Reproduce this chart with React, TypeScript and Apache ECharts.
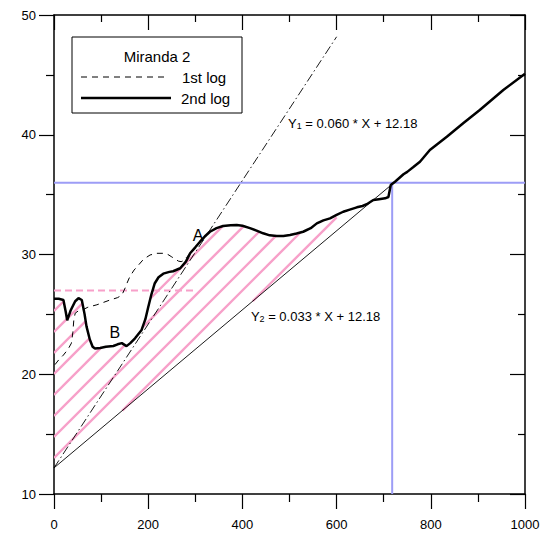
import React, { useEffect, useRef } from 'react';
import * as echarts from 'echarts';

// ---- data ----
const secondLogX = [0, 10, 20, 25, 28, 35, 45, 52, 59, 65, 69, 76, 82, 87, 98, 110, 126, 135, 144, 154, 162, 172, 186, 194, 200, 207, 214, 222, 232, 245, 253, 268, 280, 289, 300, 310, 320, 331, 345, 359, 375, 388, 400, 416, 430, 444, 458, 473, 487, 501, 515, 529, 545, 558, 572, 586, 600, 614, 628, 643, 655, 664, 678, 690, 703, 710, 715, 724, 742, 750, 763, 777, 798, 834, 870, 904, 954, 1000];
const secondLogY = [26.3, 26.3, 26.2, 25.2, 24.5, 25.3, 26.1, 26.35, 26.2, 25.0, 24.0, 22.9, 22.3, 22.15, 22.2, 22.3, 22.36, 22.5, 22.6, 22.35, 22.6, 23.0, 23.7, 24.6, 25.6, 26.7, 27.6, 28.1, 28.4, 28.55, 28.6, 28.85, 29.4, 30.1, 30.6, 31.07, 31.5, 31.9, 32.2, 32.38, 32.45, 32.46, 32.4, 32.2, 32.0, 31.77, 31.6, 31.54, 31.55, 31.63, 31.75, 31.9, 32.2, 32.6, 32.85, 33.02, 33.3, 33.57, 33.75, 33.94, 34.05, 34.2, 34.55, 34.62, 34.69, 34.8, 35.8, 36.08, 36.7, 36.9, 37.3, 37.75, 38.73, 39.84, 41.0, 42.07, 43.74, 45.1];

const firstLogX = [2, 10, 20, 30, 37, 40, 42, 45, 52, 62, 72, 91, 105, 119, 135, 144, 151, 156, 161, 170, 179, 190, 204, 218, 232, 242, 250, 258, 264, 270, 276, 282, 290];
const firstLogY = [20.8, 21.2, 21.6, 22.1, 22.6, 23.5, 24.5, 25.1, 25.3, 25.4, 25.6, 25.8, 26.0, 26.2, 26.4, 26.6, 27.2, 27.7, 28.15, 28.7, 29.1, 29.6, 29.96, 30.1, 30.1, 30.0, 29.8, 29.6, 29.45, 29.4, 29.5, 29.8, 30.1];

const intercept = 12.18;
const y1Slope = 0.06;
const y2Slope = 0.033;
const y1EndX = 600;
const y2EndX = 720;
const blueLevelY = 36;
const blueLevelX = 718;
const pinkLevelY = 27;
const pinkEndX = 300;
const hatchEndX = 600;

const xMin = 0, xMax = 1000, xStep = 200;
const yMin = 10, yMax = 50, yStep = 10;

const legendTitle = 'Miranda 2';
const legendNames = ['1st log', '2nd log'];
const eq1Text = ['Y', '1', ' = 0.060 * X + 12.18'];
const eq2Text = ['Y', '2', ' = 0.033 * X + 12.18'];
const markA = { label: 'A', x: 306, y: 31.6 };
const markB = { label: 'B', x: 129, y: 23.45 };
const eq1Pos = { x: 497, y: 41.2 };
const eq2Pos = { x: 418, y: 25.1 };

const FONT = '"Liberation Sans", Arial, Helvetica, sans-serif';
const PINK = '#f7a0c9';
const BLUE = '#9d9df6';
const HATCH_STEP = 21;
const HATCH_OFFSET = 10;

export default function App() {
  const ref = useRef<HTMLDivElement>(null);
  useEffect(() => {
    if (!ref.current) return;
    const chart = echarts.init(ref.current, null, { renderer: 'svg' });

    const secondLog = secondLogX.map((x, i) => [x, secondLogY[i]]);
    const firstLog = firstLogX.map((x, i) => [x, firstLogY[i]]);
    const hatchUpper = secondLogX
      .map((x, i) => [x, secondLogY[i]])
      .filter((p) => p[0] <= hatchEndX);

    const renderHatch = (params: any, api: any) => {
      const poly: number[][] = hatchUpper.map((p) => api.coord(p));
      poly.push(api.coord([hatchEndX, intercept + y2Slope * hatchEndX]));
      poly.push(api.coord([0, intercept]));
      const origin = api.coord([0, intercept]);
      const c0 = origin[0] + origin[1] - HATCH_OFFSET;
      let cMin = Infinity, cMax = -Infinity;
      poly.forEach((p) => { cMin = Math.min(cMin, p[0] + p[1]); cMax = Math.max(cMax, p[0] + p[1]); });
      const kMin = Math.ceil((cMin - c0) / HATCH_STEP);
      const kMax = Math.floor((cMax - c0) / HATCH_STEP);
      const children: any[] = [];
      for (let k = kMin; k <= kMax; k++) {
        const c = c0 + k * HATCH_STEP;
        const pts: number[][] = [];
        for (let i = 0; i < poly.length; i++) {
          const a = poly[i];
          const b = poly[(i + 1) % poly.length];
          const fa = a[0] + a[1] - c;
          const fb = b[0] + b[1] - c;
          if ((fa < 0) !== (fb < 0)) {
            const t = fa / (fa - fb);
            pts.push([a[0] + t * (b[0] - a[0]), a[1] + t * (b[1] - a[1])]);
          }
        }
        pts.sort((p, q) => p[0] - q[0]);
        for (let j = 0; j + 1 < pts.length; j += 2) {
          children.push({
            type: 'line',
            shape: { x1: pts[j][0], y1: pts[j][1], x2: pts[j + 1][0], y2: pts[j + 1][1] },
            style: { stroke: PINK, lineWidth: 2.4 },
          });
        }
      }
      return { type: 'group', children };
    };

    const axisLine = { show: true, onZero: false, lineStyle: { color: '#000', width: 1.5 } };
    const baseX = { type: 'value', min: xMin, max: xMax, interval: xStep, splitLine: { show: false } };
    const baseY = { type: 'value', min: yMin, max: yMax, interval: yStep, splitLine: { show: false } };
    const lineSeries = (data: any, style: any, z: number) => ({
      type: 'line', data, symbol: 'none', silent: true, z, lineStyle: style,
    });

    chart.setOption({
      animation: false,
      grid: { left: 54, right: 19, top: 15, bottom: 40 },
      xAxis: [
        {
          ...baseX, position: 'bottom', axisLine,
          axisTick: { show: true, length: 15, lineStyle: { color: '#000', width: 1.2 } },
          minorTick: { show: true, splitNumber: 2, length: 8, lineStyle: { color: '#000', width: 1.2 } },
          axisLabel: { color: '#000', fontSize: 13, fontFamily: FONT, margin: 24, formatter: (v: number) => String(v) },
        },
        {
          ...baseX, position: 'top', axisLine,
          axisTick: { show: true, inside: true, length: 15, lineStyle: { color: '#000', width: 1.2 } },
          minorTick: { show: true, splitNumber: 2, length: 7, lineStyle: { color: '#000', width: 1.2 } },
          axisLabel: { show: false },
        },
      ],
      yAxis: [
        {
          ...baseY, position: 'left', axisLine,
          axisTick: { show: true, length: 15, lineStyle: { color: '#000', width: 1.2 } },
          minorTick: { show: true, splitNumber: 2, length: 8, lineStyle: { color: '#000', width: 1.2 } },
          axisLabel: { color: '#000', fontSize: 13, fontFamily: FONT, margin: 18, formatter: (v: number) => String(v) },
        },
        {
          ...baseY, position: 'right', axisLine,
          axisTick: { show: true, inside: true, length: 15, lineStyle: { color: '#000', width: 1.2 } },
          minorTick: { show: true, splitNumber: 2, length: 7, lineStyle: { color: '#000', width: 1.2 } },
          axisLabel: { show: false },
        },
      ],
      series: [
        {
          type: 'custom', data: [[0, intercept]], renderItem: renderHatch, silent: true, z: 1, clip: true,
        },
        lineSeries([[xMin, blueLevelY], [xMax, blueLevelY]], { color: BLUE, width: 2 }, 2),
        lineSeries([[blueLevelX, yMin], [blueLevelX, blueLevelY]], { color: BLUE, width: 2 }, 2),
        lineSeries([[xMin, pinkLevelY], [pinkEndX, pinkLevelY]], { color: PINK, width: 2, type: [7, 4] }, 2),
        lineSeries([[0, intercept], [y2EndX, intercept + y2Slope * y2EndX]], { color: '#000', width: 0.9 }, 3),
        lineSeries([[0, intercept], [y1EndX, intercept + y1Slope * y1EndX]], { color: '#000', width: 0.9, type: [9, 3, 1.5, 3] }, 3),
        { ...lineSeries(firstLog, { color: '#000', width: 1, type: [6, 5] }, 4), name: legendNames[0] },
        { ...lineSeries(secondLog, { color: '#000', width: 2.5 }, 5), name: legendNames[1] },
      ],
    });

    const px = (p: number[]) => chart.convertToPixel({ xAxisIndex: 0, yAxisIndex: 0 }, p) as number[];
    const pa = px([markA.x, markA.y]);
    const pb = px([markB.x, markB.y]);
    const pe1 = px([eq1Pos.x, eq1Pos.y]);
    const pe2 = px([eq2Pos.x, eq2Pos.y]);
    const eqRich = {
      m: { fontSize: 13, fontFamily: FONT, fill: '#000', lineHeight: 20, verticalAlign: 'bottom' },
      s: { fontSize: 9, fontFamily: FONT, fill: '#000', lineHeight: 12, verticalAlign: 'bottom' },
    };
    const eqText = (t: string[]) => `{m|${t[0]}}{s|${t[1]}}{m|${t[2]}}`;

    chart.setOption({
      graphic: [
        { type: 'rect', z: 50, shape: { x: 72, y: 37, width: 170, height: 76 }, style: { fill: '#fff', stroke: '#000', lineWidth: 1 } },
        { type: 'text', z: 51, x: 157, y: 56, style: { text: legendTitle, font: `15px ${FONT}`, fill: '#000', align: 'center', verticalAlign: 'middle' } },
        { type: 'line', z: 51, shape: { x1: 81, y1: 77, x2: 168, y2: 77 }, style: { stroke: '#000', lineWidth: 1, lineDash: [6, 5] } },
        { type: 'text', z: 51, x: 182, y: 77, style: { text: legendNames[0], font: `15px ${FONT}`, fill: '#000', align: 'left', verticalAlign: 'middle' } },
        { type: 'line', z: 51, shape: { x1: 81, y1: 98, x2: 171, y2: 98 }, style: { stroke: '#000', lineWidth: 2.5 } },
        { type: 'text', z: 51, x: 181, y: 98, style: { text: legendNames[1], font: `15px ${FONT}`, fill: '#000', align: 'left', verticalAlign: 'middle' } },
        { type: 'text', z: 52, x: pa[0], y: pa[1], style: { text: markA.label, font: `16px ${FONT}`, fill: '#000', align: 'center', verticalAlign: 'middle' } },
        { type: 'text', z: 52, x: pb[0], y: pb[1], style: { text: markB.label, font: `16px ${FONT}`, fill: '#000', align: 'center', verticalAlign: 'middle' } },
        { type: 'text', z: 52, x: pe1[0], y: pe1[1], style: { text: eqText(eq1Text), rich: eqRich, align: 'left', verticalAlign: 'middle' } },
        { type: 'text', z: 52, x: pe2[0], y: pe2[1], style: { text: eqText(eq2Text), rich: eqRich, align: 'left', verticalAlign: 'middle' } },
      ],
    });

    return () => chart.dispose();
  }, []);
  return <div ref={ref} style={{ position: 'fixed', left: 0, top: 0, width: 544, height: 534, background: '#fff' }} />;
}
